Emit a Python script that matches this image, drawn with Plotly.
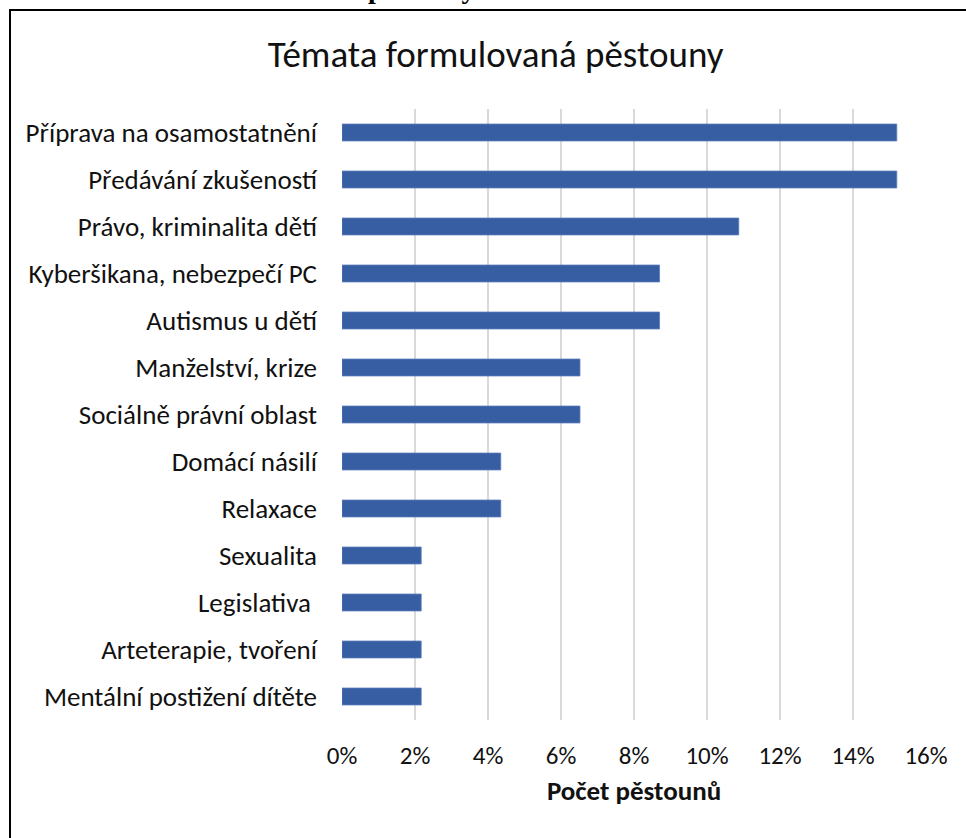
import plotly.graph_objects as go

categories = [
    "Příprava na osamostatnění",
    "Předávání zkušeností",
    "Právo, kriminalita dětí",
    "Kyberšikana, nebezpečí PC",
    "Autismus u dětí",
    "Manželství, krize",
    "Sociálně právní oblast",
    "Domácí násilí",
    "Relaxace",
    "Sexualita",
    "Legislativa ",
    "Arteterapie, tvoření",
    "Mentální postižení dítěte",
]
values = [0.152, 0.152, 0.1087, 0.087, 0.087, 0.0652, 0.0652, 0.0435, 0.0435, 0.0217, 0.0217, 0.0217, 0.0217]
tick_vals = [0, 0.02, 0.04, 0.06, 0.08, 0.10, 0.12, 0.14, 0.16]
tick_text = ["0%", "2%", "4%", "6%", "8%", "10%", "12%", "14%", "16%"]

FONT = "Carlito, Lato, sans-serif"

fig = go.Figure(go.Bar(
    x=values, y=categories, orientation="h",
    marker=dict(color="#375EA2", line=dict(color="#5A7EBE", width=0.8)),
))

fig.update_layout(
    width=966, height=838,
    margin=dict(l=342, r=40, t=109, b=118),
    paper_bgcolor="white", plot_bgcolor="white",
    bargap=0.64,
    showlegend=False,
    font=dict(family=FONT, color="#111111"),
    title=dict(text="Témata formulovaná pěstouny", x=0.513, xanchor="center",
               y=1 - 54 / 838, yanchor="middle", yref="container",
               font=dict(family=FONT, size=37, color="#111111")),
    xaxis=dict(range=[0, 0.16], tickvals=tick_vals, ticktext=tick_text,
               showgrid=True, gridcolor="#D9D9D9", gridwidth=1.5,
               zeroline=False, showline=False,
               tickfont=dict(size=25, family=FONT), ticklabelstandoff=18,
               title=dict(text="<b>Počet pěstounů</b>", font=dict(size=27, family=FONT), standoff=11)),
    yaxis=dict(autorange="reversed", showgrid=False, showline=False,
               tickfont=dict(size=27, family=FONT), ticklabelstandoff=24),
)

# outer chart border
fig.add_shape(type="rect", xref="paper", yref="paper",
              x0=-332 / 584, x1=1.2, y0=-0.3, y1=1 + 99 / 611,
              line=dict(color="black", width=2), fillcolor="rgba(0,0,0,0)", layer="below")

# cut-off caption above the chart
fig.add_annotation(text="<b>Graf 4: Témata formulovaná pěstouny</b>", xref="paper", yref="paper",
                   x=-330 / 584, y=1 + 103 / 611, xanchor="left", yanchor="bottom",
                   showarrow=False, font=dict(family="Liberation Serif", size=28, color="black"))

fig.write_html("out.html", config={"displayModeBar": False},
               post_script="document.body.style.margin='0';")
